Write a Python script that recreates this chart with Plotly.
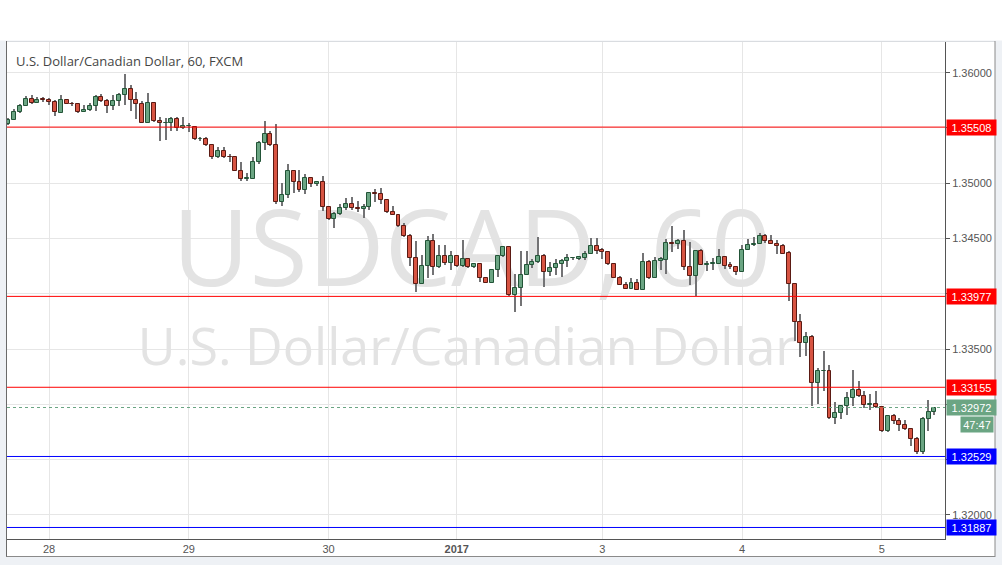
import plotly.graph_objects as go

# ---------------- data (hourly USDCAD candles, FXCM) ----------------
opens = [1.35536, 1.35573, 1.35645, 1.35700, 1.35764, 1.35727, 1.35761, 1.35755, 1.35736, 1.35639,
         1.35755, 1.35721, 1.35718, 1.35645, 1.35664, 1.35700, 1.35782, 1.35745, 1.35700, 1.35745,
         1.35800, 1.35855, 1.35755, 1.35718, 1.35545, 1.35727, 1.35564, 1.35545, 1.35545, 1.35582,
         1.35500, 1.35518, 1.35506, 1.35396, 1.35396, 1.35343, 1.35234, 1.35290, 1.35240, 1.35237,
         1.35112, 1.35041, 1.35041, 1.35192, 1.35361, 1.35450, 1.35343, 1.34828, 1.34893, 1.35112,
         1.35015, 1.34935, 1.35050, 1.34997, 1.35015, 1.34784, 1.34678, 1.34722, 1.34775, 1.34811,
         1.34775, 1.34763, 1.34784, 1.34911, 1.34899, 1.34848, 1.34741, 1.34714, 1.34613, 1.34524,
         1.34321, 1.34090, 1.34250, 1.34482, 1.34241, 1.34340, 1.34277, 1.34340, 1.34250, 1.34312,
         1.34241, 1.34268, 1.34143, 1.34098, 1.34214, 1.34340, 1.34423, 1.33988, 1.34054, 1.34173,
         1.34262, 1.34286, 1.34342, 1.34196, 1.34232, 1.34268, 1.34295, 1.34321, 1.34319, 1.34325,
         1.34364, 1.34437, 1.34394, 1.34382, 1.34267, 1.34147, 1.34083, 1.34047, 1.34101, 1.34038,
         1.34292, 1.34147, 1.34301, 1.34310, 1.34464, 1.34455, 1.34482, 1.34246, 1.34162, 1.34391,
         1.34264, 1.34267, 1.34270, 1.34331, 1.34258, 1.34246, 1.34201, 1.34400, 1.34440, 1.34455,
         1.34527, 1.34482, 1.34455, 1.34434, 1.34365, 1.34086, 1.33743, 1.33554, 1.33608, 1.33194,
         1.33299, 1.33305, 1.32878, 1.32923, 1.32983, 1.33059, 1.33131, 1.33074, 1.32992, 1.33004,
         1.32977, 1.32758, 1.32899, 1.32854, 1.32818, 1.32779, 1.32689, 1.32569, 1.32869, 1.32932]
highs = [1.35588, 1.35673, 1.35721, 1.35785, 1.35800, 1.35776, 1.35782, 1.35770, 1.35752, 1.35794,
         1.35764, 1.35733, 1.35727, 1.35709, 1.35724, 1.35800, 1.35809, 1.35764, 1.35800, 1.35812,
         1.35985, 1.35885, 1.35830, 1.35745, 1.35812, 1.35736, 1.35600, 1.35594, 1.35603, 1.35603,
         1.35597, 1.35548, 1.35520, 1.35417, 1.35423, 1.35355, 1.35328, 1.35328, 1.35269, 1.35240,
         1.35195, 1.35092, 1.35237, 1.35379, 1.35559, 1.35476, 1.35533, 1.35003, 1.35172, 1.35115,
         1.35124, 1.35086, 1.35059, 1.35024, 1.35062, 1.34787, 1.34740, 1.34817, 1.34864, 1.34876,
         1.34840, 1.34811, 1.34920, 1.34944, 1.34953, 1.34857, 1.34798, 1.34717, 1.34643, 1.34545,
         1.34476, 1.34351, 1.34521, 1.34539, 1.34440, 1.34440, 1.34387, 1.34343, 1.34485, 1.34315,
         1.34271, 1.34271, 1.34146, 1.34217, 1.34343, 1.34432, 1.34432, 1.34182, 1.34387, 1.34387,
         1.34315, 1.34512, 1.34360, 1.34286, 1.34315, 1.34315, 1.34360, 1.34336, 1.34346, 1.34388,
         1.34509, 1.34503, 1.34415, 1.34385, 1.34279, 1.34162, 1.34107, 1.34140, 1.34131, 1.34367,
         1.34310, 1.34331, 1.34331, 1.34500, 1.34612, 1.34497, 1.34576, 1.34470, 1.34397, 1.34403,
         1.34295, 1.34328, 1.34403, 1.34337, 1.34288, 1.34249, 1.34443, 1.34494, 1.34512, 1.34554,
         1.34545, 1.34536, 1.34491, 1.34449, 1.34389, 1.34089, 1.33815, 1.33659, 1.33629, 1.33329,
         1.33479, 1.33359, 1.33023, 1.32998, 1.33113, 1.33314, 1.33215, 1.33125, 1.33095, 1.33119,
         1.32989, 1.32902, 1.32917, 1.32878, 1.32863, 1.32788, 1.32704, 1.32884, 1.33044, 1.32971]
lows = [1.35527, 1.35570, 1.35640, 1.35697, 1.35720, 1.35724, 1.35739, 1.35709, 1.35606, 1.35633,
        1.35715, 1.35703, 1.35633, 1.35642, 1.35658, 1.35655, 1.35736, 1.35633, 1.35661, 1.35700,
        1.35709, 1.35655, 1.35582, 1.35542, 1.35542, 1.35558, 1.35379, 1.35394, 1.35473, 1.35470,
        1.35491, 1.35461, 1.35393, 1.35379, 1.35340, 1.35216, 1.35231, 1.35231, 1.35195, 1.35110,
        1.35024, 1.35018, 1.35038, 1.35175, 1.35305, 1.35340, 1.34817, 1.34799, 1.34864, 1.34914,
        1.34917, 1.34899, 1.34970, 1.34976, 1.34746, 1.34672, 1.34598, 1.34710, 1.34757, 1.34757,
        1.34737, 1.34686, 1.34757, 1.34834, 1.34811, 1.34732, 1.34711, 1.34604, 1.34515, 1.34256,
        1.34018, 1.34087, 1.34143, 1.34173, 1.34238, 1.34262, 1.34220, 1.34247, 1.34247, 1.34232,
        1.34232, 1.34107, 1.34095, 1.34095, 1.34149, 1.34337, 1.33985, 1.33840, 1.33893, 1.34170,
        1.34238, 1.34283, 1.34062, 1.34160, 1.34167, 1.34152, 1.34244, 1.34306, 1.34304, 1.34310,
        1.34361, 1.34364, 1.34316, 1.34264, 1.34144, 1.34077, 1.34044, 1.34044, 1.34032, 1.34035,
        1.34137, 1.34144, 1.34216, 1.34180, 1.34379, 1.34409, 1.34213, 1.34083, 1.33977, 1.34258,
        1.34210, 1.34219, 1.34267, 1.34222, 1.34228, 1.34168, 1.34198, 1.34397, 1.34437, 1.34452,
        1.34464, 1.34452, 1.34362, 1.34356, 1.33935, 1.33569, 1.33428, 1.33434, 1.32983, 1.33005,
        1.33119, 1.32872, 1.32824, 1.32869, 1.32902, 1.32983, 1.33065, 1.32968, 1.32953, 1.32968,
        1.32752, 1.32752, 1.32824, 1.32758, 1.32773, 1.32623, 1.32548, 1.32548, 1.32758, 1.32902]
closes = [1.35573, 1.35645, 1.35700, 1.35764, 1.35727, 1.35755, 1.35752, 1.35736, 1.35645, 1.35755,
          1.35718, 1.35715, 1.35645, 1.35664, 1.35700, 1.35782, 1.35745, 1.35700, 1.35745, 1.35800,
          1.35855, 1.35752, 1.35718, 1.35545, 1.35727, 1.35561, 1.35545, 1.35548, 1.35582, 1.35500,
          1.35518, 1.35521, 1.35396, 1.35399, 1.35343, 1.35234, 1.35290, 1.35237, 1.35234, 1.35112,
          1.35041, 1.35044, 1.35192, 1.35361, 1.35450, 1.35343, 1.34828, 1.34893, 1.35112, 1.35015,
          1.34935, 1.35050, 1.34997, 1.35015, 1.34784, 1.34678, 1.34722, 1.34775, 1.34811, 1.34775,
          1.34763, 1.34784, 1.34908, 1.34905, 1.34846, 1.34741, 1.34714, 1.34613, 1.34524, 1.34321,
          1.34090, 1.34250, 1.34482, 1.34241, 1.34340, 1.34277, 1.34340, 1.34250, 1.34312, 1.34241,
          1.34268, 1.34143, 1.34098, 1.34214, 1.34340, 1.34423, 1.33988, 1.34054, 1.34173, 1.34262,
          1.34286, 1.34342, 1.34196, 1.34232, 1.34268, 1.34295, 1.34321, 1.34324, 1.34331, 1.34364,
          1.34437, 1.34388, 1.34382, 1.34267, 1.34147, 1.34083, 1.34047, 1.34101, 1.34038, 1.34292,
          1.34147, 1.34301, 1.34316, 1.34464, 1.34455, 1.34482, 1.34246, 1.34162, 1.34391, 1.34261,
          1.34270, 1.34276, 1.34331, 1.34255, 1.34246, 1.34201, 1.34400, 1.34440, 1.34455, 1.34527,
          1.34479, 1.34455, 1.34434, 1.34362, 1.34086, 1.33743, 1.33554, 1.33608, 1.33194, 1.33299,
          1.33305, 1.32878, 1.32923, 1.32983, 1.33059, 1.33131, 1.33074, 1.32992, 1.33004, 1.32977,
          1.32758, 1.32899, 1.32848, 1.32812, 1.32776, 1.32689, 1.32569, 1.32869, 1.32932, 1.32972]

day_tick_index = [7, 31, 55, 77, 102, 126, 150]
day_tick_labels = ["28", "29", "30", "<b>2017</b>", "3", "4", "5"]

price_ticks = [1.320, 1.325, 1.330, 1.335, 1.340, 1.345, 1.350, 1.355, 1.360]
price_tick_labels = ["1.32000", "", "", "1.33500", "", "1.34500", "1.35000", "", "1.36000"]

red_levels = [1.35508, 1.33977, 1.33155]
blue_levels = [1.32529, 1.31887]
last_price = 1.32972
countdown = "47:47"

title_text = "U.S. Dollar/Canadian Dollar, 60, FXCM"
watermark_symbol = "USDCAD, 60"
watermark_name = "U.S. Dollar/Canadian Dollar"

# ---------------- styling ----------------
UP_FILL, UP_EDGE = "#6ba583", "#225437"
DN_FILL, DN_EDGE = "#d75442", "#5b1a13"
WICK = "#737375"
GRID = "#e6e6e6"
AXIS = "#555555"
W, H = 1002, 565
L, R, T, B = 7, 57, 42, 26
PW, PH = W - L - R, H - T - B

def px_x(x):
    return (x - L) / PW

def px_y(y):
    return (H - B - y) / PH

idx = list(range(len(opens)))
up = [c >= o for o, c in zip(opens, closes)]
body_base = [min(o, c) for o, c in zip(opens, closes)]
body_h = [max(abs(c - o), 0.000012) for o, c in zip(opens, closes)]
wick_h = [h - l for h, l in zip(highs, lows)]

x_range = [-0.22, 160.83]
y_range = [1.317827, 1.362777]

fig = go.Figure()

# watermark on the base axes (below the candles drawn on the overlay axes)
fig.add_trace(go.Scatter(
    x=[79.6, 78.8], y=[1.34310, 1.33470], mode="text",
    text=[watermark_symbol, watermark_name],
    textfont=dict(family="Open Sans", size=[106, 52], color="#e3e3e3"),
    textposition="middle center", hoverinfo="skip", showlegend=False,
))

fig.add_trace(go.Bar(
    x=idx, y=wick_h, base=lows, width=0.18,
    marker=dict(color=WICK, line=dict(width=0)),
    xaxis="x2", yaxis="y2", hoverinfo="skip", showlegend=False,
))
fig.add_trace(go.Bar(
    x=idx, y=body_h, base=body_base, width=0.68,
    marker=dict(color=[UP_FILL if u else DN_FILL for u in up],
                line=dict(color=[UP_EDGE if u else DN_EDGE for u in up], width=1)),
    xaxis="x2", yaxis="y2", hoverinfo="skip", showlegend=False,
))

shapes = []
shapes.append(dict(type="rect", xref="paper", yref="paper", layer="below",
                   x0=px_x(-5), x1=px_x(W + 5), y0=px_y(40.5), y1=px_y(-5),
                   fillcolor="#ffffff", line=dict(width=0)))
shapes.append(dict(type="rect", xref="paper", yref="paper", layer="below",
                   x0=px_x(7), x1=px_x(995), y0=px_y(557), y1=px_y(41),
                   fillcolor="#ffffff", line=dict(width=0)))
shapes.append(dict(type="line", xref="paper", yref="paper", layer="above",
                   x0=px_x(7), x1=px_x(995), y0=px_y(41.5), y1=px_y(41.5),
                   line=dict(color="#d9dce0", width=1)))
shapes.append(dict(type="line", xref="paper", yref="paper", layer="above",
                   x0=px_x(6.5), x1=px_x(6.5), y0=px_y(557), y1=px_y(41),
                   line=dict(color="#6a6a6a", width=1)))
shapes.append(dict(type="line", xref="paper", yref="paper", layer="above",
                   x0=px_x(995), x1=px_x(995), y0=px_y(557), y1=px_y(41),
                   line=dict(color="#8a8a8a", width=1)))
shapes.append(dict(type="line", xref="paper", yref="paper", layer="above",
                   x0=px_x(6.5), x1=px_x(995), y0=px_y(556.5), y1=px_y(556.5),
                   line=dict(color="#8a8a8a", width=1)))

for lv in red_levels:
    shapes.append(dict(type="line", xref="paper", yref="y", x0=0, x1=1, y0=lv, y1=lv,
                       line=dict(color="#ff0000", width=1), layer="above"))
for lv in blue_levels:
    shapes.append(dict(type="line", xref="paper", yref="y", x0=0, x1=1, y0=lv, y1=lv,
                       line=dict(color="#0000ff", width=1), layer="above"))
shapes.append(dict(type="line", xref="paper", yref="y", x0=0, x1=1, y0=last_price, y1=last_price,
                   line=dict(color=UP_FILL, width=1, dash="dot"), layer="above"))

annotations = []
annotations.append(dict(x=px_x(14), y=px_y(61), xref="paper", yref="paper",
                        xanchor="left", yanchor="middle", showarrow=False,
                        text=title_text,
                        font=dict(family="Open Sans", size=13, color="#454545")))

def level_label(val, color):
    return dict(x=px_x(946), y=val, xref="paper", yref="y", xanchor="left", yanchor="middle",
                showarrow=False, text=f"{val:.5f}", bgcolor=color, width=47, height=13,
                borderpad=1, align="center",
                font=dict(family="Liberation Sans, Arial", size=11, color="#ffffff"))

for lv in red_levels:
    annotations.append(level_label(lv, "#ff0000"))
for lv in blue_levels:
    annotations.append(level_label(lv, "#0000ff"))
annotations.append(level_label(last_price, UP_FILL))
annotations.append(dict(x=px_x(994), y=px_y(424.5), xref="paper", yref="paper",
                        xanchor="right", yanchor="middle", showarrow=False, text=countdown,
                        bgcolor=UP_FILL, width=30, height=13, borderpad=1, align="center",
                        font=dict(family="Liberation Sans, Arial", size=11, color="#ffffff")))

tickfont = dict(family="Liberation Sans, Arial", size=11, color="#555555")

fig.update_layout(
    width=W, height=H, margin=dict(l=L, r=R, t=T, b=B),
    paper_bgcolor="#eef1f5", plot_bgcolor="#ffffff",
    barmode="overlay", bargap=0, showlegend=False, hovermode=False,
    shapes=shapes, annotations=annotations,
    xaxis=dict(range=x_range, tickmode="array", tickvals=day_tick_index, ticktext=day_tick_labels,
               showgrid=True, gridcolor=GRID, gridwidth=1, zeroline=False,
               showline=True, linecolor=AXIS, linewidth=1, ticks="", tickfont=tickfont,
               fixedrange=True),
    xaxis2=dict(range=x_range, overlaying="x", visible=False, fixedrange=True),
    yaxis=dict(range=y_range, side="right", tickmode="array", tickvals=price_ticks,
               ticktext=price_tick_labels, showgrid=True, gridcolor=GRID, gridwidth=1,
               zeroline=False, showline=True, linecolor=AXIS, linewidth=1,
               ticks="outside", ticklen=4, tickcolor=AXIS, tickfont=tickfont, fixedrange=True),
    yaxis2=dict(range=y_range, overlaying="y", side="right", visible=False, fixedrange=True),
)

fig.write_html("out.html", config={"displayModeBar": False},
               post_script="document.body.style.margin='0';document.body.style.overflow='hidden';")
